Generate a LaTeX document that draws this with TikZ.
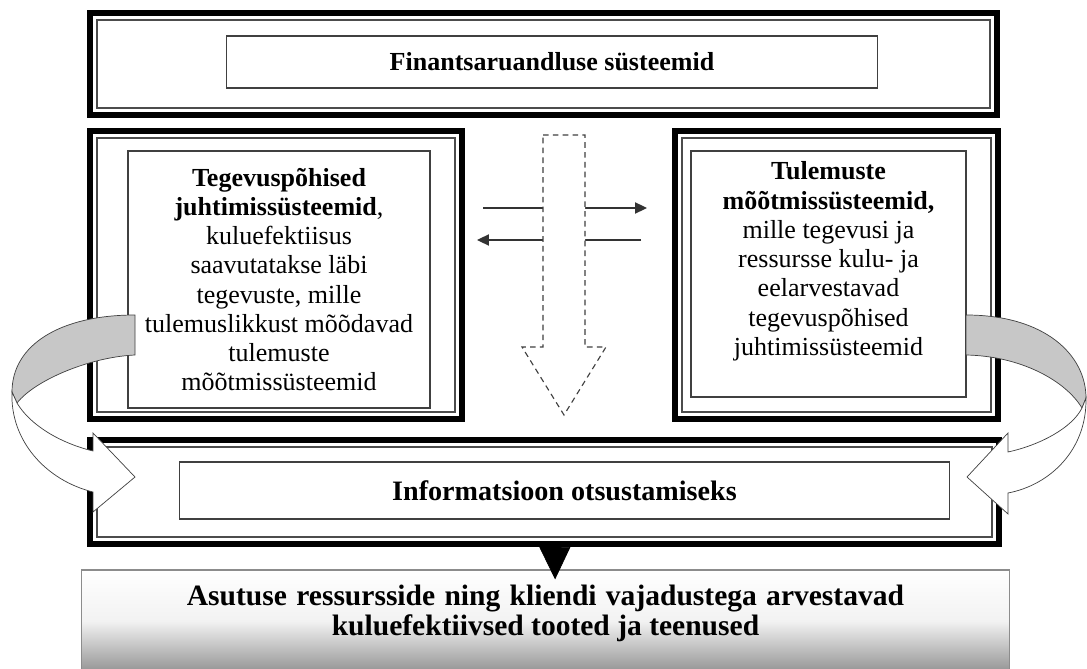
\documentclass[tikz,border=0pt]{standalone}
\usepackage{fontspec}
\setmainfont{Liberation Serif}
\usetikzlibrary{arrows.meta}

\begin{document}
\begin{tikzpicture}[x=0.025cm, y=-0.025cm,
  thickframe/.style={draw, line width=4.25pt, inner sep=0pt},
  thinframe/.style={draw=black!70, line width=0.9pt, inner sep=0pt},
  textbox/.style={draw=black!75, line width=0.8pt, inner sep=0pt, align=center, fill=white},
  midtext/.style={font=\fontsize{18.5}{20.8}\selectfont},
  flow/.style={draw=black!80, line width=0.8pt, -{Triangle[length=8.5pt, width=8pt]}},
  ribbon/.style={draw=black!75, line width=0.5pt}
]
\useasboundingbox[fill=white] (0,0) rectangle (1087,669);

% financial reporting
\node[thickframe, minimum width=22.675cm, minimum height=2.55cm] (finframe) at (543.5,64) {};
\node[thinframe, minimum width=22.325cm, minimum height=2.2cm] (finframein) at (finframe) {};
\node[textbox, minimum width=16.25cm, minimum height=1.3cm,
  font=\bfseries\fontsize{18.5}{21}\selectfont] (fin) at (552,62) {Finantsaruandluse süsteemid};

% two middle systems
\node[thickframe, minimum width=9.3cm, minimum height=7.2cm] (tegframe) at (276,275) {};
\node[thinframe, minimum width=8.95cm, minimum height=6.85cm] (tegframein) at (tegframe) {};
\node[textbox, midtext, minimum width=7.55cm, minimum height=6.425cm] (teg) at (279,279.5)
  {\textbf{Tegevuspõhised}\\ \textbf{juhtimissüsteemid}, \\ kuluefektiisus\\ saavutatakse läbi\\
   tegevuste, mille\\ tulemuslikkust mõõdavad\\ tulemuste\\ mõõtmissüsteemid};

\node[thickframe, minimum width=8.075cm, minimum height=7.2cm] (tulframe) at (836.5,275) {};
\node[thinframe, minimum width=7.725cm, minimum height=6.85cm] (tulframein) at (tulframe) {};
\node[textbox, midtext, minimum width=6.875cm, minimum height=6.15cm, text depth=22pt] (tul) at (828.5,274)
  {\textbf{Tulemuste}\\ \textbf{mõõtmissüsteemid,}\\ mille tegevusi ja\\ ressursse kulu- ja\\
   eelarvestavad\\ tegevuspõhised\\ juhtimissüsteemid};

% information
\node[thickframe, minimum width=22.725cm, minimum height=2.6cm] (infoframe) at (544.5,492) {};
\node[thinframe, minimum width=22.375cm, minimum height=2.25cm] (infoframein) at (infoframe) {};
\node[textbox, minimum width=19.225cm, minimum height=1.425cm,
  font=\bfseries\fontsize{20}{24}\selectfont] (info) at (564.5,490.5) {Informatsioon otsustamiseks};

% result
\node[draw=black!45, line width=0.8pt, minimum width=23.175cm, minimum height=2.55cm,
  top color=white, bottom color=black!42, middle color=black!5, align=center, text depth=15pt,
  font=\bfseries\fontsize{21}{21.3}\selectfont] (final) at (545.5,621)
  {\makebox[510pt][s]{Asutuse ressursside ning kliendi vajadustega arvestavad}\\
   kuluefektiivsed tooted ja teenused};

\draw[-{Triangle[length=23pt, width=22pt]}, line width=0.5pt]
  ([xshift=0.26cm]infoframe.south) -- ([xshift=0.24cm, yshift=-0.25cm]final.north);

% exchange arrows behind the dashed one
\coordinate (topA) at (483,208);
\coordinate (topB) at (647,208);
\coordinate (botA) at (641,240);
\coordinate (botB) at (477,240);
\draw[flow] (topA) -- (topB);
\draw[flow] (botA) -- (botB);

\draw[draw=black!75, line width=0.8pt, fill=white, dash pattern=on 4pt off 3pt]
  (543,135) -- (585,135) -- (585,347) -- (606,347) -- (564,415) -- (522,347) -- (543,347) -- cycle;

% curved arrows
\draw[ribbon, fill=black!22] (135,315) .. controls (60,315) and (12,345) .. (12,392)
  -- (17,403) .. controls (35,380) and (90,357) .. (135,355) -- cycle;
\draw[ribbon, fill=white] (17,403) .. controls (30,425) and (60,443) .. (93,451)
  -- (93,433) -- (135,477) -- (93,512) -- (93,492)
  .. controls (45,480) and (10,440) .. (12,392) -- cycle;

\draw[ribbon, fill=black!22] (966,315) .. controls (1045,315) and (1086,355) .. (1086,398)
  -- (1082,408) .. controls (1065,380) and (1020,356) .. (966,355) -- cycle;
\draw[ribbon, fill=white] (1082,408) .. controls (1072,428) and (1040,445) .. (1008,452)
  -- (1008,433) -- (967,477) -- (1008,514) -- (1008,493)
  .. controls (1050,485) and (1087,450) .. (1086,398) -- cycle;
\end{tikzpicture}
\end{document}
